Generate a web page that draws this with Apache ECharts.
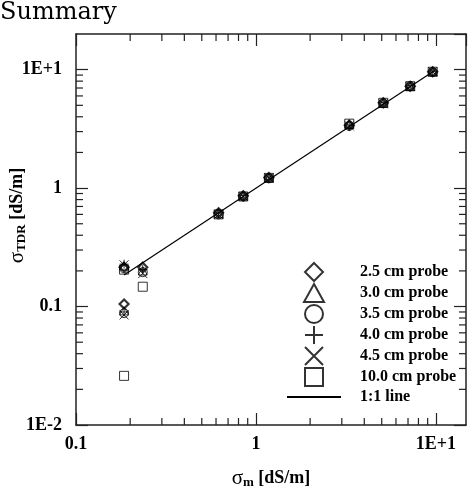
<!DOCTYPE html>
<html>
<head>
<meta charset="utf-8">
<script src="https://cdn.jsdelivr.net/npm/echarts@6/dist/echarts.min.js"></script>
<style>
  html, body { margin: 0; padding: 0; background: #fff; }
  #chart { width: 474px; height: 488px; }
</style>
</head>
<body>
<div id="chart"></div>
<script>
// measured conductivity, sigma_m [dS/m]
var sigmaM = [0.185, 0.185, 0.235, 0.62, 0.85, 1.18, 3.3, 5.1, 7.2, 9.6];
// TDR conductivity per probe length
var probe25 = [0.215, 0.105, 0.215, 0.62, 0.86, 1.23, 3.4, 5.25, 7.25, 9.6];
var probe30 = [0.22, 0.092, 0.2, 0.61, 0.86, 1.22, 3.45, 5.2, 7.2, 9.6];
var probe35 = [0.21, 0.088, 0.195, 0.6, 0.85, 1.21, 3.35, 5.2, 7.25, 9.55];
var probe40 = [0.228, 0.09, 0.205, 0.62, 0.87, 1.24, 3.4, 5.3, 7.3, 9.7];
var probe45 = [0.225, 0.085, 0.19, 0.6, 0.85, 1.22, 3.35, 5.15, 7.2, 9.6];
var probe100 = [0.205, 0.026, 0.147, 0.6, 0.85, 1.22, 3.5, 5.25, 7.25, 9.6];
var lineX = [0.185, 9.8];
var lineY = [0.185, 9.8];

var names = ['2.5 cm probe', '3.0 cm probe', '3.5 cm probe', '4.0 cm probe', '4.5 cm probe', '10.0 cm probe', '1:1 line'];
var tickLabels = { '-2': '1E-2', '-1': '0.1', '0': '1', '1': '1E+1' };
var xMinor = [0.2, 0.3, 0.4, 0.5, 0.6, 0.7, 0.8, 0.9, 2, 3, 4, 5, 6, 7, 8, 9];
var yMinor = [0.02, 0.03, 0.04, 0.05, 0.06, 0.07, 0.08, 0.09, 0.2, 0.3, 0.4, 0.5, 0.6, 0.7, 0.8, 0.9, 2, 3, 4, 5, 6, 7, 8, 9];

var X_MIN = 0.1, X_MAX = 14.7, Y_MIN = 0.01, Y_MAX = 20;

// hollow marker outlines (paths so legend keeps aspect)
var SYM = {
    diamond: 'path://M5,0L10,5L5,10L0,5Z',
    triangle: 'path://M5,0L10,9L0,9Z',
    square: 'path://M0,0L10,0L10,10L0,10Z',
    plus: 'path://M5,0L5,10M0,5L10,5',
    cross: 'path://M0,0L10,10M10,0L0,10'
};

function pairs(ys) {
    return sigmaM.map(function (x, i) { return [x, ys[i]]; });
}

function fmt(v) {
    var e = Math.round(Math.log10(v));
    return tickLabels[e] || '';
}

var lblFont = { fontFamily: 'Liberation Serif', fontWeight: 'bold', fontSize: 18, color: '#000' };
var axisLine = { lineStyle: { color: '#222', width: 1.5 } };

function logX(pos, extra) {
    return Object.assign({
        type: 'log', logBase: 10, min: X_MIN, max: X_MAX, position: pos,
        axisLine: axisLine,
        axisTick: { inside: true, length: 12, lineStyle: { color: '#222', width: 1.2 } },
        splitLine: { show: false },
        axisLabel: { show: false }
    }, extra || {});
}
function logY(pos, extra) {
    return Object.assign({
        type: 'log', logBase: 10, min: Y_MIN, max: Y_MAX, position: pos,
        axisLine: axisLine,
        axisTick: { inside: true, length: 12, lineStyle: { color: '#222', width: 1.2 } },
        splitLine: { show: false },
        axisLabel: { show: false }
    }, extra || {});
}

function scatter(name, ys, symbol, bw) {
    return {
        name: name, type: 'scatter', data: pairs(ys),
        symbol: symbol, symbolSize: 9, symbolKeepAspect: true,
        itemStyle: { color: 'rgba(0,0,0,0)', borderColor: '#000', borderWidth: bw || 1 },
        z: 3
    };
}

// minor ticks, placed through the axes' own scales
function minorTicks(params, api) {
    var v = api.value(0), w = api.value(1);
    var len = 7, a, b, st = { stroke: '#222', lineWidth: 1.2 };
    if (params.seriesName === 'xticks') {
        a = api.coord([v, Y_MIN]); b = api.coord([v, Y_MAX]);
        return { type: 'group', children: [
            { type: 'line', shape: { x1: a[0], y1: a[1], x2: a[0], y2: a[1] - len }, style: st },
            { type: 'line', shape: { x1: b[0], y1: b[1], x2: b[0], y2: b[1] + len }, style: st }
        ] };
    }
    a = api.coord([X_MIN, w]); b = api.coord([X_MAX, w]);
    return { type: 'group', children: [
        { type: 'line', shape: { x1: a[0], y1: a[1], x2: a[0] + len, y2: a[1] }, style: st },
        { type: 'line', shape: { x1: b[0], y1: b[1], x2: b[0] - len, y2: b[1] }, style: st }
    ] };
}

var chart = echarts.init(document.getElementById('chart'));
chart.setOption({
    animation: false,
    backgroundColor: '#fff',
    title: {
        text: 'Summary', left: 0, top: 1, padding: 0,
        textStyle: { fontFamily: 'DejaVu Serif', fontWeight: 'normal', fontSize: 24, color: '#000' }
    },
    grid: { left: 76, right: 8, top: 34, bottom: 63, outerBoundsMode: 'none', containLabel: false },
    legend: {
        data: names, orient: 'vertical', left: 281, top: 257,
        itemWidth: 54, itemHeight: 18, itemGap: 1, symbolKeepAspect: true,
        textStyle: { fontFamily: 'Liberation Serif', fontWeight: 'bold', fontSize: 16, lineHeight: 18, color: '#000', padding: [0, 0, 0, 14] }
    },
    xAxis: [
        logX('bottom', {
            axisLabel: Object.assign({ show: true, margin: 10, formatter: fmt, showMaxLabel: false }, lblFont),
            name: '{s|σ}{sub|m}{t| [dS/m]}', nameLocation: 'middle', nameGap: 43, nameMoveOverlap: false,
            nameTextStyle: { rich: {
                s: { fontFamily: 'Liberation Serif', fontSize: 21, color: '#000' },
                sub: { fontFamily: 'Liberation Serif', fontWeight: 'bold', fontSize: 13, color: '#000', verticalAlign: 'bottom', padding: [8, 0, 0, 0] },
                t: { fontFamily: 'Liberation Serif', fontWeight: 'bold', fontSize: 18, color: '#000' }
            } }
        }),
        logX('top')
    ],
    yAxis: [
        logY('left', {
            axisLabel: Object.assign({ show: true, margin: 14, formatter: fmt, showMaxLabel: false }, lblFont),
            name: '{s|σ}{sub|TDR}{t| [dS/m]}', nameLocation: 'middle', nameGap: 48, nameMoveOverlap: false,
            nameTextStyle: { padding: [0, 0, 0, 28], rich: {
                s: { fontFamily: 'Liberation Serif', fontSize: 21, color: '#000' },
                sub: { fontFamily: 'Liberation Serif', fontWeight: 'bold', fontSize: 13, color: '#000', verticalAlign: 'bottom', padding: [8, 0, 0, 0] },
                t: { fontFamily: 'Liberation Serif', fontWeight: 'bold', fontSize: 18, color: '#000' }
            } }
        }),
        logY('right')
    ],
    series: [
        scatter(names[0], probe25, SYM.diamond, 2.2),
        scatter(names[1], probe30, SYM.triangle),
        scatter(names[2], probe35, 'circle'),
        scatter(names[3], probe40, SYM.plus),
        scatter(names[4], probe45, SYM.cross),
        scatter(names[5], probe100, SYM.square),
        {
            name: names[6], type: 'line', symbol: 'none',
            data: lineX.map(function (x, i) { return [x, lineY[i]]; }),
            itemStyle: { color: '#000', opacity: 0 },
            lineStyle: { color: '#000', width: 1.2, opacity: 1 }, z: 2
        },
        {
            name: 'xticks', type: 'custom', renderItem: minorTicks, silent: true, clip: false,
            data: xMinor.map(function (v) { return [v, Y_MIN]; })
        },
        {
            name: 'yticks', type: 'custom', renderItem: minorTicks, silent: true, clip: false,
            data: yMinor.map(function (v) { return [X_MIN, v]; })
        }
    ]
});
</script>
</body>
</html>
